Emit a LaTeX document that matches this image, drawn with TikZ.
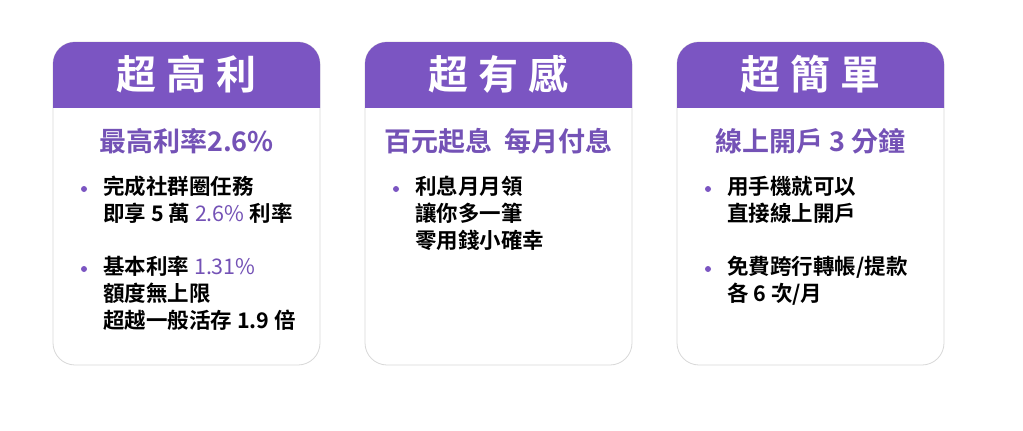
\documentclass[tikz,border=0pt]{standalone}
\usepackage{fontspec}
\setmainfont{Noto Sans CJK TC}[BoldFont={Noto Sans CJK TC Bold}]
\usetikzlibrary{positioning}
\definecolor{cardpurple}{HTML}{7B55C2}
\definecolor{textpurple}{HTML}{7452B6}
\definecolor{cardline}{HTML}{D8D8D8}
\tikzset{
  card/.style={draw=cardline,line width=0.8pt,fill=white,rounded corners=22pt},
  head/.style={fill=cardpurple,rounded corners=22pt},
  title/.style={text=white,font=\bfseries\fontsize{40}{42}\selectfont},
  subtitle/.style={text=textpurple,font=\bfseries\fontsize{27}{30}\selectfont},
  body/.style={anchor=north west,align=left,inner sep=0pt,font=\bfseries\fontsize{21.5}{27}\selectfont},
  dot/.style={circle,fill=cardpurple,inner sep=0pt,minimum size=6pt}
}
\newcommand{\hl}[1]{\textcolor{textpurple}{\mdseries #1}}
\newcommand{\gap}{\hspace{10pt}}
\newcommand{\cardbox}[4]{%
  \draw[card] (#1,42) rectangle ++(267,323);
  \begin{scope}
    \clip (#1,42) rectangle ++(267,65);
    \fill[head] (#1,42) rectangle ++(267,100);
  \end{scope}
  \node[title] (#2t) at (#1+133.5,74) {#3};
  \node[subtitle] (#2s) at (#1+133.5,141) {#4};
}
\begin{document}
\begin{tikzpicture}[x=1pt,y=-1pt]
  \useasboundingbox (0,0) rectangle (1023,431);
  \cardbox{53}{a}{超\gap 高\gap 利}{最高利率2.6\%}
  \cardbox{365}{b}{超\gap 有\gap 感}{百元起息\ \ 每月付息}
  \cardbox{677}{c}{超\gap 簡\gap 單}{線上開戶 3 分鐘}
  % card one
  \node[dot] (a1) at (84,189) {};
  \node[body] (a1t) at (103,176) {完成社群圈任務\\即享 5 萬 \hl{2.6\%} 利率};
  \node[dot] (a2) at (84,269) {};
  \node[body] (a2t) at (103,256) {基本利率 \hl{1.31\%}\\額度無上限\\超越一般活存 1.9 倍};
  % card two
  \node[dot] (b1) at (396,189) {};
  \node[body] (b1t) at (415,176) {利息月月領\\讓你多一筆\\零用錢小確幸};
  % card three
  \node[dot] (c1) at (708,189) {};
  \node[body] (c1t) at (727,176) {用手機就可以\\直接線上開戶};
  \node[dot] (c2) at (708,269) {};
  \node[body] (c2t) at (727,256) {免費跨行轉帳/提款\\各 6 次/月};
\end{tikzpicture}
\end{document}
